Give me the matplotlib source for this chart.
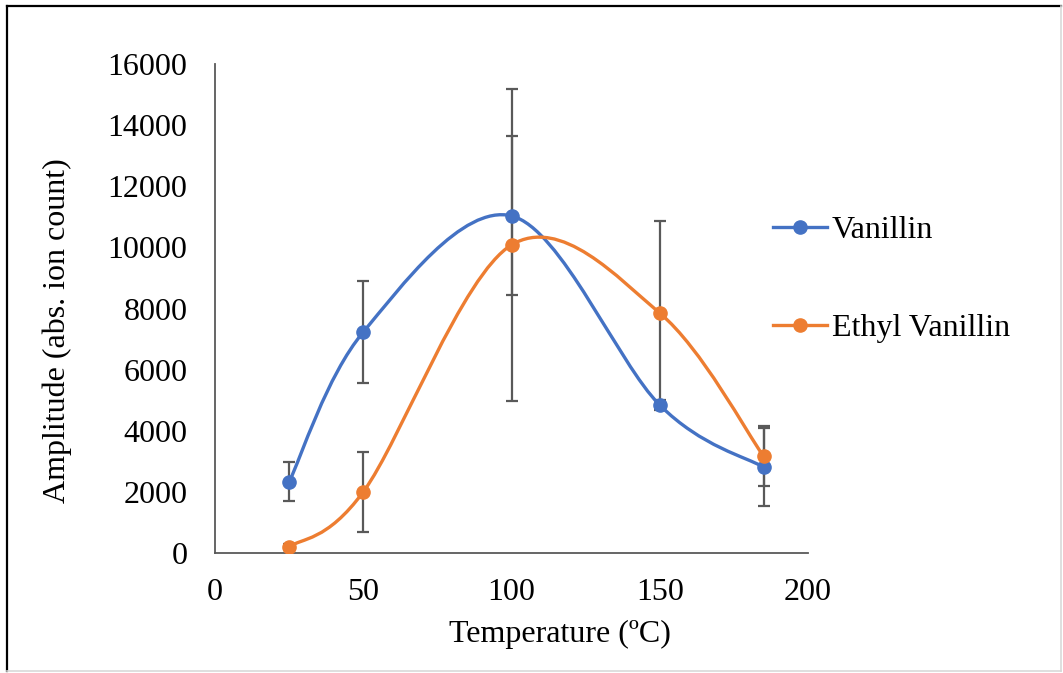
import matplotlib
matplotlib.use('Agg')
import matplotlib.pyplot as plt
from matplotlib.path import Path
from matplotlib.patches import PathPatch
from matplotlib.lines import Line2D

plt.rcParams['font.family'] = ['Liberation Serif', 'DejaVu Serif']

temps = [25, 50, 100, 150, 185]
vanillin = [2330, 7230, 11030, 4840, 2810]
vanillin_err = [640, 1680, 2600, 150, 1280]
ethyl = [200, 2000, 10080, 7850, 3170]
ethyl_err = [100, 1310, 5100, 3010, 990]

blue = '#4472C4'
orange = '#ED7D31'
gray = '#595959'


def smooth_path(xs, ys):
    # excel style smoothed line: cubic bezier through every point
    n = len(xs)
    verts = [(xs[0], ys[0])]
    codes = [Path.MOVETO]
    for i in range(n - 1):
        i0 = max(i - 1, 0)
        i3 = min(i + 2, n - 1)
        c1 = (xs[i] + (xs[i + 1] - xs[i0]) / 6, ys[i] + (ys[i + 1] - ys[i0]) / 6)
        c2 = (xs[i + 1] - (xs[i3] - xs[i]) / 6, ys[i + 1] - (ys[i3] - ys[i]) / 6)
        verts += [c1, c2, (xs[i + 1], ys[i + 1])]
        codes += [Path.CURVE4] * 3
    return Path(verts, codes)


fig = plt.figure(figsize=(10.63, 6.73), dpi=100)
ax = fig.add_axes([0.2023, 0.1783, 0.5578, 0.7266])

# frame around the chart area
fig.add_artist(Line2D([0.0066, 0.0066], [0.003, 0.991], color='black', lw=1.6))
fig.add_artist(Line2D([0.0066, 0.998], [0.991, 0.991], color='black', lw=1.6))
fig.add_artist(Line2D([0.998, 0.998], [0.003, 0.991], color='#d9d9d9', lw=1.2))
fig.add_artist(Line2D([0.0066, 0.998], [0.003, 0.003], color='#d9d9d9', lw=1.2))

for ys, errs, col in [(vanillin, vanillin_err, blue), (ethyl, ethyl_err, orange)]:
    ax.errorbar(temps, ys, yerr=errs, fmt='none', ecolor=gray, elinewidth=1.6,
                capsize=4.5, capthick=1.6, zorder=2)
    ax.add_patch(PathPatch(smooth_path(temps, ys), facecolor='none',
                           edgecolor=col, lw=2.4, zorder=3))
    ax.plot(temps, ys, linestyle='none', marker='o', markersize=9.5,
            color=col, zorder=4)

ax.set_xlim(0, 200)
ax.set_ylim(0, 16000)
ax.set_xticks([0, 50, 100, 150, 200])
ax.set_yticks(range(0, 16001, 2000))
ax.tick_params(axis='both', length=0, labelsize=23, colors='black')
ax.tick_params(axis='y', pad=20)
ax.tick_params(axis='x', pad=18)
for side in ['top', 'right']:
    ax.spines[side].set_visible(False)
for side in ['left', 'bottom']:
    ax.spines[side].set_color(gray)
    ax.spines[side].set_linewidth(1.3)

ax.set_xlabel('Temperature (ºC)', fontsize=23)
ax.set_ylabel('Amplitude (abs. ion count)', fontsize=23)
ax.xaxis.set_label_coords(0.582, -0.137)
ax.yaxis.set_label_coords(-0.242, 0.455)

handles = [Line2D([], [], color=blue, lw=2.4, marker='o', markersize=9.5),
           Line2D([], [], color=orange, lw=2.4, marker='o', markersize=9.5)]
fig.legend(handles, ['Vanillin', 'Ethyl Vanillin'], loc='upper left',
           bbox_to_anchor=(773 / 1063, 1 - 216 / 673), frameon=False, fontsize=23,
           labelspacing=2.15, handlelength=1.7, handletextpad=0.15,
           borderpad=0, borderaxespad=0)

fig.savefig('out.png', dpi=100)
